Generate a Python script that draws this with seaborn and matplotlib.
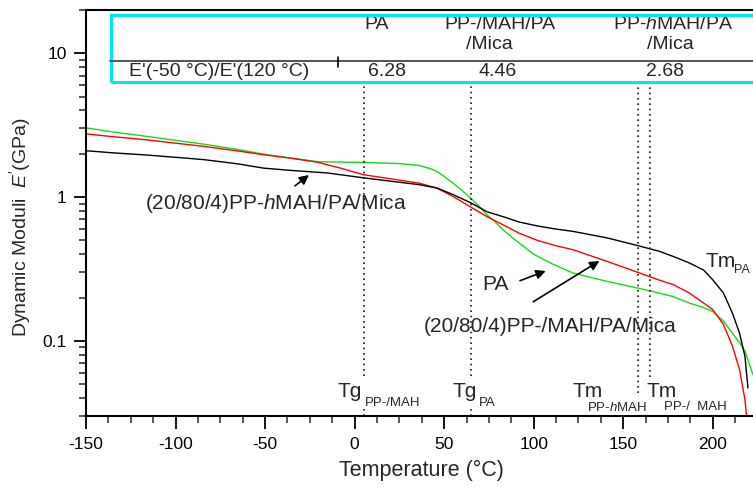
import matplotlib
matplotlib.use("Agg")
import matplotlib.pyplot as plt
import seaborn as sns
import numpy as np
import pandas as pd
from matplotlib.patches import Rectangle
from matplotlib.ticker import FixedLocator, MultipleLocator, LogLocator, FuncFormatter, NullFormatter

# ---------------- data ----------------
temp_hmah = [-150, -135, -116, -100, -84, -65, -51, -35, -15, 5, 20, 36, 46, 55, 65, 74,
             83, 92, 102, 112, 122, 141, 158, 170, 178, 187, 195, 200, 206, 211, 215,
             218, 219.7]
mod_hmah = [2.10, 2.03, 1.96, 1.89, 1.82, 1.70, 1.59, 1.53, 1.47, 1.36, 1.29, 1.22,
            1.155, 1.04, 0.91, 0.79, 0.73, 0.67, 0.63, 0.60, 0.577, 0.52, 0.46, 0.42,
            0.386, 0.348, 0.31, 0.266, 0.215, 0.156, 0.113, 0.078, 0.047]

temp_mah = [-150, -135, -116, -100, -84, -65, -51, -35, -20, -8, 5, 20, 36, 46, 55, 65,
            74, 83, 92, 102, 112, 122, 141, 158, 170, 178, 187, 195, 200, 206, 211,
            215, 218, 220]
mod_mah = [2.75, 2.63, 2.50, 2.37, 2.25, 2.09, 1.97, 1.86, 1.74, 1.59, 1.43, 1.34,
           1.25, 1.155, 1.01, 0.85, 0.73, 0.64, 0.56, 0.50, 0.46, 0.43, 0.357, 0.30,
           0.265, 0.246, 0.215, 0.183, 0.165, 0.13, 0.092, 0.063, 0.039, 0.022]

temp_pa = [-150, -135, -116, -100, -84, -65, -51, -35, -20, 5, 25, 36, 42, 46, 50, 55,
           60, 65, 70, 74, 78, 83, 90, 100, 110, 122, 141, 158, 170, 178, 187, 195,
           200, 206, 211, 215, 218, 222.5]
mod_pa = [3.03, 2.84, 2.64, 2.48, 2.33, 2.14, 1.99, 1.86, 1.76, 1.74, 1.71, 1.66,
          1.58, 1.51, 1.39, 1.25, 1.11, 0.98, 0.85, 0.75, 0.68, 0.59, 0.50, 0.40,
          0.345, 0.296, 0.259, 0.233, 0.215, 0.203, 0.183, 0.17, 0.16, 0.137, 0.113,
          0.097, 0.085, 0.058]

transition_temps = [5, 65, 158.5, 165]
table_columns = ["PA", "PP-/MAH/PA", "PP-$\\mathit{h}$MAH/PA"]
ratio_values = ["6.28", "4.46", "2.68"]
x_ticks = [-150, -100, -50, 0, 50, 100, 150, 200]
y_ticks = [0.1, 1, 10]

# ---------------- style ----------------
sns.set_theme(style="ticks")
plt.rcParams["font.family"] = ["Liberation Sans", "DejaVu Sans"]
plt.rcParams["mathtext.fontset"] = "custom"
plt.rcParams["mathtext.rm"] = "Liberation Sans"
plt.rcParams["mathtext.it"] = "Liberation Sans:italic"
plt.rcParams["axes.unicode_minus"] = False

fig = plt.figure(figsize=(7.53, 4.87), dpi=100)
ax = fig.add_axes([86/753, 71/487, 667/753, 406/487])

GREEN = "#14dc14"
df_pa = pd.DataFrame({"T": temp_pa, "E": mod_pa})
df_mah = pd.DataFrame({"T": temp_mah, "E": mod_mah})
df_hmah = pd.DataFrame({"T": temp_hmah, "E": mod_hmah})
sns.lineplot(data=df_pa, x="T", y="E", ax=ax, color=GREEN, lw=1.0, sort=False, estimator=None)
sns.lineplot(data=df_mah, x="T", y="E", ax=ax, color="#ff0000", lw=1.0, sort=False, estimator=None)
sns.lineplot(data=df_hmah, x="T", y="E", ax=ax, color="black", lw=1.0, sort=False, estimator=None)

ax.set_yscale("log")
ax.set_xlim(-150, 222.5)
ax.set_ylim(0.03, 20)

ax.xaxis.set_major_locator(FixedLocator(x_ticks))
ax.xaxis.set_minor_locator(MultipleLocator(12.5))
ax.yaxis.set_major_locator(FixedLocator(y_ticks))
ax.yaxis.set_major_formatter(FuncFormatter(lambda v, p: f"{v:g}"))
ax.yaxis.set_minor_locator(LogLocator(base=10, subs=np.arange(2, 10)))
ax.yaxis.set_minor_formatter(NullFormatter())

ax.tick_params(axis="both", which="major", direction="out", length=9, width=1.3,
               labelsize=12.5, colors="black")
ax.tick_params(axis="both", which="minor", direction="out", length=5, width=1.1)
ax.tick_params(axis="x", pad=6)
ax.tick_params(axis="y", pad=5)
for s in ["left", "bottom", "top"]:
    ax.spines[s].set_linewidth(1.5)
    ax.spines[s].set_color("black")
ax.spines["right"].set_visible(False)

ax.set_xlabel("Temperature (°C)", fontsize=15.5, va="center")
ax.xaxis.set_label_coords(0.503, -0.133)
ax.set_ylabel("Dynamic Moduli  $E'$(GPa)", fontsize=14, va="center")
ax.yaxis.set_label_coords(-0.099, 0.4655)

# dotted transition lines
dots = (0, (1, 2.2))
ax.vlines(transition_temps[0], 0.057, 6.0, colors="k", linestyles=dots, lw=1.2)
ax.vlines(transition_temps[0], 0.030, 0.034, colors="k", linestyles=dots, lw=1.2)
ax.vlines(transition_temps[1], 0.057, 6.0, colors="k", linestyles=dots, lw=1.2)
ax.vlines(transition_temps[1], 0.030, 0.035, colors="k", linestyles=dots, lw=1.2)
ax.vlines(transition_temps[2], 0.0436, 6.0, colors="k", linestyles=dots, lw=1.2)
ax.vlines(transition_temps[3], 0.0563, 6.0, colors="k", linestyles=dots, lw=1.2)

# table box
T = ax.transAxes
ax.add_patch(Rectangle((0.0375, 0.8219), 1.05, 0.9877 - 0.8219, transform=T,
                       fill=False, edgecolor="#00e5ee", lw=2.2, clip_on=False, zorder=5))
ax.plot([0.036, 1.05], [0.8744, 0.8744], transform=T, color="#444444", lw=1.3,
        clip_on=False, zorder=5)
ax.plot([0.3774, 0.3774], [0.8596, 0.8842], transform=T, color="black", lw=1.2,
        clip_on=False, zorder=5)
TFS = 14
col_x = [0.4355, 0.6207, 0.8808]
for xx, lab in zip(col_x, table_columns):
    ax.text(xx, 0.9631, lab, transform=T, ha="center", va="center", fontsize=TFS)
ax.text(0.6051, 0.9138, "/Mica", transform=T, ha="center", va="center", fontsize=TFS)
ax.text(0.8768, 0.9138, "/Mica", transform=T, ha="center", va="center", fontsize=TFS)
ax.text(0.0645, 0.8473, "E'(-50 °C)/E'(120 °C)", transform=T, ha="left", va="center", fontsize=TFS)
for xx, v in zip([0.4520, 0.6177, 0.8675], ratio_values):
    ax.text(xx, 0.8473, v, transform=T, ha="center", va="center", fontsize=TFS)

# curve labels and arrows
AFS = 15
ax.text(0.2847, 0.5246, "(20/80/4)PP-$\\mathit{h}$MAH/PA/Mica", transform=T,
        ha="center", va="center", fontsize=AFS)
arrow = dict(arrowstyle="-|>", color="black", lw=1.2, mutation_scale=14, shrinkA=0, shrinkB=0)
ax.annotate("", xy=(0.3343, 0.5936), xytext=(0.3133, 0.5667), xycoords=T, textcoords=T,
            arrowprops=arrow)
ax.text(0.6139, 0.3227, "PA", transform=T, ha="center", va="center", fontsize=AFS)
ax.annotate("", xy=(0.6892, 0.3571), xytext=(0.6507, 0.3333), xycoords=T, textcoords=T,
            arrowprops=arrow)
ax.text(0.6955, 0.22, "(20/80/4)PP-/MAH/PA/Mica", transform=T,
        ha="center", va="center", fontsize=AFS)
ax.annotate("", xy=(0.7696, 0.3818), xytext=(0.6706, 0.2815), xycoords=T, textcoords=T,
            arrowprops=arrow)

# transition labels
ax.text(0.3778, 0.0599, "Tg", transform=T, ha="left", va="center", fontsize=15)
ax.text(0.4183, 0.0328, "PP-/MAH", transform=T, ha="left", va="center", fontsize=9.5)
ax.text(0.5502, 0.0599, "Tg", transform=T, ha="left", va="center", fontsize=15)
ax.text(0.5892, 0.0328, "PA", transform=T, ha="left", va="center", fontsize=9.5)
ax.text(0.7301, 0.0599, "Tm", transform=T, ha="left", va="center", fontsize=15)
ax.text(0.7511, 0.0214, "PP-$\\mathit{h}$MAH", transform=T, ha="left", va="center", fontsize=9.5)
ax.text(0.8396, 0.0599, "Tm", transform=T, ha="left", va="center", fontsize=15)
ax.text(0.8666, 0.0214, "PP-/  MAH", transform=T, ha="left", va="center", fontsize=9.5)
ax.text(0.9295, 0.380, "Tm", transform=T, ha="left", va="center", fontsize=15)
ax.text(0.9715, 0.3596, "PA", transform=T, ha="left", va="center", fontsize=9)

fig.savefig("out.png", dpi=100)
